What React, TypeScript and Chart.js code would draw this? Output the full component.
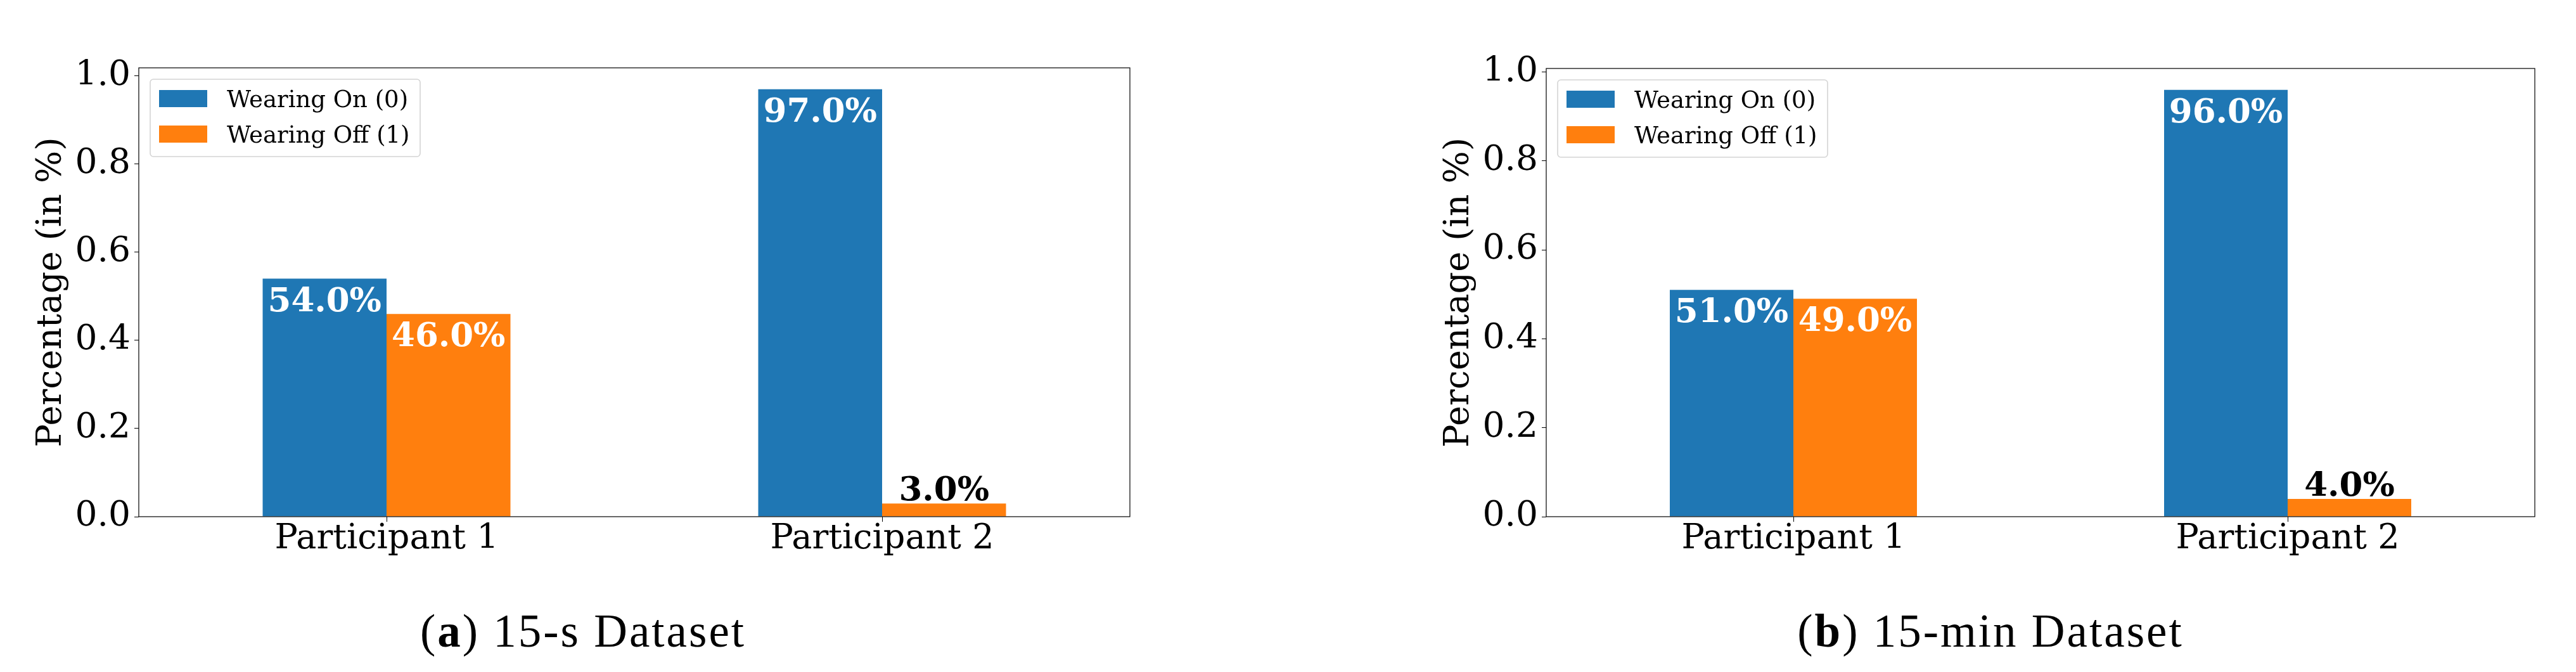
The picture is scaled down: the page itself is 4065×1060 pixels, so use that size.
import React, { useEffect, useRef } from 'react';
import { Chart, registerables } from 'chart.js';

Chart.register(...registerables);

// ---- data ----
const categories = ['Participant 1', 'Participant 2'];
const seriesNames = ['Wearing On (0)', 'Wearing Off (1)'];
const seriesColors = ['#1f77b4', '#ff7f0e'];
const onValues15s = [0.54, 0.97];
const offValues15s = [0.46, 0.03];
const onValues15min = [0.51, 0.96];
const offValues15min = [0.49, 0.04];
const yAxisTitle = 'Percentage (in %)';
const captionTags = ['a', 'b'];
const captionTexts = ['15-s Dataset', '15-min Dataset'];

const SERIF = '"DejaVu Serif", serif';

const framePlugin = {
  id: 'frame',
  afterDraw(chart: any) {
    const { ctx, chartArea: ca } = chart;
    ctx.save();
    ctx.strokeStyle = '#000';
    ctx.lineWidth = 1.2;
    ctx.strokeRect(ca.left, ca.top, ca.right - ca.left, ca.bottom - ca.top);
    ctx.restore();
  },
};

const valueLabelPlugin = {
  id: 'valueLabels',
  afterDatasetsDraw(chart: any) {
    const { ctx } = chart;
    ctx.save();
    ctx.font = `bold 53px ${SERIF}`;
    ctx.textAlign = 'center';
    ctx.textBaseline = 'alphabetic';
    chart.data.datasets.forEach((ds: any, di: number) => {
      const meta = chart.getDatasetMeta(di);
      meta.data.forEach((bar: any, i: number) => {
        const v = ds.data[i];
        const txt = (v * 100).toFixed(1) + '%';
        if (v >= 0.1) {
          ctx.fillStyle = '#ffffff';
          ctx.fillText(txt, bar.x, bar.y + 51);
        } else {
          ctx.fillStyle = '#000000';
          ctx.fillText(txt, bar.x, bar.y - 5);
        }
      });
    });
    ctx.restore();
  },
};

const boxLegendPlugin = {
  id: 'boxLegend',
  afterDraw(chart: any) {
    const { ctx, chartArea: ca } = chart;
    const bx = ca.left + 18;
    const by = ca.top + 18;
    const bw = 426;
    const bh = 122;
    ctx.save();
    ctx.beginPath();
    ctx.roundRect(bx, by, bw, bh, 5);
    ctx.fillStyle = 'rgba(255,255,255,0.8)';
    ctx.fill();
    ctx.strokeStyle = '#d4d4d4';
    ctx.lineWidth = 1.6;
    ctx.stroke();
    ctx.font = `37px ${SERIF}`;
    ctx.textAlign = 'left';
    ctx.textBaseline = 'alphabetic';
    chart.data.datasets.forEach((ds: any, i: number) => {
      const cy = by + 30.5 + i * 56;
      ctx.fillStyle = ds.backgroundColor;
      ctx.fillRect(bx + 14, cy - 13.5, 76, 27);
      ctx.fillStyle = '#000';
      ctx.fillText(ds.label, bx + 121, cy + 13.5);
    });
    ctx.restore();
  },
};

function makeCaptionPlugin(tag: string, text: string) {
  return {
    id: 'caption',
    afterDraw(chart: any) {
      const { ctx, chartArea: ca } = chart;
      ctx.save();
      ctx.textBaseline = 'alphabetic';
      ctx.textAlign = 'left';
      ctx.fillStyle = '#000';
      const reg = `73px "Liberation Serif", serif`;
      const bold = `bold 73px "Liberation Serif", serif`;
      const parts: [string, string][] = [
        ['(', reg],
        [tag, bold],
        [') ' + text, reg],
      ];
      (ctx as any).letterSpacing = '3px';
      let total = 0;
      for (const [s, f] of parts) {
        ctx.font = f;
        total += ctx.measureText(s).width;
      }
      let x = ca.left + 701 - total / 2;
      const y = 1020;
      for (const [s, f] of parts) {
        ctx.font = f;
        ctx.fillText(s, x, y);
        x += ctx.measureText(s).width;
      }
      ctx.restore();
    },
  };
}

type PanelProps = {
  onValues: number[];
  offValues: number[];
  tag: string;
  caption: string;
  left: number;
  padTop: number;
  padRight: number;
};

function Panel({ onValues, offValues, tag, caption, left, padTop, padRight }: PanelProps) {
  const ref = useRef<HTMLCanvasElement | null>(null);
  useEffect(() => {
    if (!ref.current) return;
    const yMax = Math.max(...onValues, ...offValues) * 1.05;
    const chart = new Chart(ref.current, {
      type: 'bar',
      data: {
        labels: categories,
        datasets: [
          {
            label: seriesNames[0],
            data: onValues,
            backgroundColor: seriesColors[0],
            borderWidth: 0,
            categoryPercentage: 0.5,
            barPercentage: 1.0,
          },
          {
            label: seriesNames[1],
            data: offValues,
            backgroundColor: seriesColors[1],
            borderWidth: 0,
            categoryPercentage: 0.5,
            barPercentage: 1.0,
          },
        ],
      },
      options: {
        responsive: false,
        animation: false,
        devicePixelRatio: 1,
        layout: { padding: { left: 0, top: padTop, right: padRight, bottom: 0 } },
        plugins: {
          legend: { display: false },
          tooltip: { enabled: false },
          title: { display: false },
        },
        scales: {
          x: {
            type: 'category',
            offset: true,
            grid: {
              display: true,
              drawOnChartArea: false,
              drawTicks: true,
              tickLength: 8,
              offset: false,
              color: '#000',
              lineWidth: 1,
            },
            border: { display: false },
            ticks: {
              color: '#000',
              font: { family: SERIF, size: 54, lineHeight: 1 },
              padding: 1,
              maxRotation: 0,
              autoSkip: false,
            },
            afterFit: (s: any) => {
              s.height = 245;
            },
          },
          y: {
            type: 'linear',
            min: 0,
            max: yMax,
            grid: {
              display: true,
              drawOnChartArea: false,
              drawTicks: true,
              tickLength: 7,
              color: '#000',
              lineWidth: 1,
            },
            border: { display: false },
            ticks: {
              stepSize: 0.2,
              includeBounds: false,
              color: '#000',
              font: { family: SERIF, size: 55, lineHeight: 1 },
              padding: 6,
              callback: (v: any) => Number(v).toFixed(1),
            },
            title: {
              display: true,
              text: yAxisTitle,
              color: '#000',
              font: { family: SERIF, size: 54, lineHeight: 1 },
              padding: { top: 55, bottom: 0 },
            },
            afterFit: (s: any) => {
              s.width = 219;
            },
          },
        },
      },
      plugins: [valueLabelPlugin, framePlugin, boxLegendPlugin, makeCaptionPlugin(tag, caption)],
    } as any);
    return () => chart.destroy();
  }, [onValues, offValues, tag, caption, padTop, padRight]);

  return (
    <canvas
      ref={ref}
      width={1830}
      height={1060}
      style={{ position: 'absolute', left, top: 0, width: 1830, height: 1060 }}
    />
  );
}

export default function App() {
  return (
    <div
      style={{
        position: 'absolute',
        left: 0,
        top: 0,
        width: 4065,
        height: 1060,
        overflow: 'hidden',
        background: '#fff',
      }}
    >
      <Panel
        onValues={onValues15s}
        offValues={offValues15s}
        tag={captionTags[0]}
        caption={captionTexts[0]}
        left={0}
        padTop={107}
        padRight={47}
      />
      <Panel
        onValues={onValues15min}
        offValues={offValues15min}
        tag={captionTags[1]}
        caption={captionTexts[1]}
        left={2221}
        padTop={108}
        padRight={51}
      />
    </div>
  );
}
